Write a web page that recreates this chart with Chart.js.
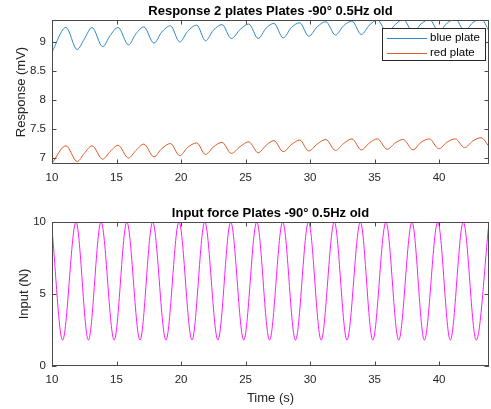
<!DOCTYPE html>
<html>
<head>
<meta charset="utf-8">
<title>Response 2 plates Plates -90° 0.5Hz old</title>
<script src="https://cdn.jsdelivr.net/npm/chart.js@4.4.1/dist/chart.umd.min.js"></script>
<style>
  html, body { margin: 0; padding: 0; background: #fff; }
  #wrap { position: relative; width: 491px; height: 409px; }
  canvas { position: absolute; left: 0; }
  #chartTop { top: 0; }
  #chartBottom { top: 200px; }
</style>
</head>
<body>
<div id="wrap">
  <canvas id="chartTop" width="491" height="200"></canvas>
  <canvas id="chartBottom" width="491" height="209"></canvas>
</div>
<script>
// tick labels
const timeTicks = [10, 15, 20, 25, 30, 35, 40];
const respTicks = [7, 7.5, 8, 8.5, 9];
const forceTicks = [0, 5, 10];

// response of the plates (troughs, mid-rise, peaks)
const plateTime = [10, 11.08,
  11.95, 12.5, 13.1,   13.93, 14.5, 15.12,  15.93, 16.5, 17.12,  17.9, 18.5, 19.18,
  19.9, 20.5, 21.22,   21.9, 22.5, 23.18,   23.9, 24.6, 25.25,   25.98, 26.6, 27.2,
  27.92, 28.55, 29.2,  29.9, 30.55, 31.22,  31.97, 32.6, 33.25,  33.97, 34.6, 35.22,
  35.98, 36.6, 37.22,  37.98, 38.6, 39.25,  39.98, 40.6, 41.25,  41.98, 42.6, 43.25,
  43.87];
const blueMv = [8.83, 9.25,
  8.87, 9.05, 9.25,   8.92, 9.11, 9.25,   8.95, 9.14, 9.26,   8.98, 9.17, 9.28,
  9.00, 9.18, 9.29,   9.02, 9.20, 9.30,   9.06, 9.22, 9.31,   9.06, 9.24, 9.32,
  9.07, 9.25, 9.33,   9.10, 9.26, 9.35,   9.12, 9.28, 9.36,   9.13, 9.29, 9.38,
  9.16, 9.30, 9.39,   9.17, 9.31, 9.39,   9.18, 9.32, 9.40,   9.19, 9.33, 9.40,
  9.19];
const redMv = [6.91, 7.21,
  6.94, 7.08, 7.21,   6.98, 7.11, 7.22,   7.00, 7.13, 7.24,   7.02, 7.16, 7.25,
  7.04, 7.18, 7.26,   7.06, 7.19, 7.27,   7.08, 7.20, 7.28,   7.09, 7.22, 7.30,
  7.11, 7.23, 7.31,   7.12, 7.24, 7.32,   7.13, 7.25, 7.33,   7.14, 7.26, 7.33,
  7.15, 7.26, 7.32,   7.14, 7.27, 7.33,   7.16, 7.27, 7.33,   7.18, 7.29, 7.35,
  7.20];

// input force (troughs and peaks)
const forceTime = [10,
  10.82, 11.86, 12.82, 13.8, 14.82, 15.8, 16.82, 17.8, 18.83, 19.84, 20.85, 21.84,
  22.86, 23.85, 24.86, 25.87, 26.86, 27.88, 28.87, 29.88, 30.86, 31.88, 32.86, 33.9,
  34.86, 35.88, 36.87, 37.9, 38.86, 39.9, 40.87, 41.88, 42.88, 43.87];
const forceN = [9.5,
  1.8, 10, 1.8, 10, 1.8, 10, 1.8, 10, 1.8, 10, 1.8, 10,
  1.8, 10, 1.8, 10, 1.8, 10, 1.8, 10, 1.8, 10, 1.8, 10,
  1.8, 10, 1.8, 10, 1.8, 10, 1.8, 10, 1.8, 10];

const axisGrey = '#262626';
const fontFamily = '"Liberation Sans", Arial, Helvetica, sans-serif';
Chart.defaults.font.family = fontFamily;
Chart.defaults.color = axisGrey;

function toPoints(xs, ys) {
    return xs.map((x, i) => ({ x: x, y: ys[i] }));
}

// MATLAB-like box with inward ticks
const boxTicks = {
    id: 'boxTicks',
    afterDatasetsDraw(chart) {
        const { ctx, chartArea: a, scales: { x, y } } = chart;
        const len = 4.5;
        ctx.save();
        ctx.strokeStyle = '#4a4a4a';
        ctx.lineWidth = 1;
        ctx.beginPath();
        x.ticks.forEach(t => {
            const px = Math.round(x.getPixelForValue(t.value)) + 0.5;
            ctx.moveTo(px, a.bottom); ctx.lineTo(px, a.bottom - len);
            ctx.moveTo(px, a.top); ctx.lineTo(px, a.top + len);
        });
        y.ticks.forEach(t => {
            const py = Math.round(y.getPixelForValue(t.value)) + 0.5;
            ctx.moveTo(a.left, py); ctx.lineTo(a.left + len, py);
            ctx.moveTo(a.right, py); ctx.lineTo(a.right - len, py);
        });
        ctx.stroke();
        ctx.strokeRect(Math.round(a.left) + 0.5, Math.round(a.top) + 0.5,
            Math.round(a.width) - 1, Math.round(a.height) - 1);
        ctx.restore();
    }
};

const boxLegend = {
    id: 'boxLegend',
    afterDraw(chart) {
        if (!chart.options.plugins.boxLegend) return;
        const { ctx, chartArea: a } = chart;
        const x0 = a.right - 107, y0 = a.top + 8, w = 103, h = 32;
        ctx.save();
        ctx.fillStyle = '#fff';
        ctx.fillRect(x0, y0, w, h);
        ctx.strokeStyle = axisGrey;
        ctx.lineWidth = 1;
        ctx.strokeRect(x0 + 0.5, y0 + 0.5, w, h);
        ctx.font = '11.5px ' + fontFamily;
        ctx.textBaseline = 'middle';
        chart.data.datasets.forEach((ds, i) => {
            const ly = y0 + 10 + i * 15;
            ctx.strokeStyle = ds.borderColor;
            ctx.beginPath();
            ctx.moveTo(x0 + 5, ly + 0.5);
            ctx.lineTo(x0 + 45, ly + 0.5);
            ctx.stroke();
            ctx.fillStyle = '#000';
            ctx.fillText(ds.label, x0 + 48, ly);
        });
        ctx.restore();
    }
};

function xScale(height, label) {
    return {
        type: 'linear', min: 10, max: 43.87,
        afterBuildTicks: s => { s.ticks = timeTicks.map(v => ({ value: v })); },
        afterFit: s => { s.height = height; },
        grid: { display: false, drawTicks: false },
        border: { display: false },
        ticks: { color: axisGrey, font: { size: 11.5 }, padding: 7, maxRotation: 0, autoSkip: false },
        title: { display: !!label, text: label || '', color: axisGrey, font: { size: 13 },
                 padding: { top: 0, bottom: 3 } }
    };
}

// top axis only carries the subplot title, centred over the plot area
function titleScale(height, text, padTop) {
    return {
        type: 'linear', position: 'top', min: 10, max: 43.87,
        afterFit: s => { s.height = height; },
        grid: { display: false, drawTicks: false },
        border: { display: false },
        ticks: { display: false },
        title: { display: true, text: text, color: '#000', font: { size: 13, weight: 'bold' },
                 padding: { top: padTop, bottom: 0 } }
    };
}

function yScale(min, max, tickValues, label, titleLeft) {
    return {
        type: 'linear', min: min, max: max,
        afterBuildTicks: s => { s.ticks = tickValues.map(v => ({ value: v })); },
        afterFit: s => { s.width = 52; },
        grid: { display: false, drawTicks: false },
        border: { display: false },
        ticks: { color: axisGrey, font: { size: 11.5 }, padding: 6, autoSkip: false,
                 callback: v => String(v) },
        title: { display: true, text: label, color: axisGrey, font: { size: 13 },
                 padding: { top: titleLeft, bottom: 0 } }
    };
}

function createPlot(ctx, datasets, scales, withLegend) {
    return new Chart(ctx, {
        type: 'line',
        data: { datasets: datasets },
        options: {
            animation: false,
            responsive: false,
            layout: { padding: { left: 0, right: 2, top: 0, bottom: 0 } },
            elements: { point: { radius: 0 }, line: { borderWidth: 1, cubicInterpolationMode: 'monotone' } },
            plugins: {
                legend: { display: false },
                tooltip: { enabled: false },
                boxLegend: withLegend
            },
            scales: scales
        },
        plugins: [boxTicks, boxLegend]
    });
}

const ctxTop = document.getElementById('chartTop').getContext('2d');
const ctxBottom = document.getElementById('chartBottom').getContext('2d');

createPlot(ctxTop, [
        { label: 'blue plate', data: toPoints(plateTime, blueMv), borderColor: '#2b87cc', fill: false },
        { label: 'red plate', data: toPoints(plateTime, redMv), borderColor: '#dd5a22', fill: false }
    ],
    {
        x: xScale(36),
        top: titleScale(20, 'Response 2 plates Plates -90° 0.5Hz old', 3.5),
        y: yScale(6.897, 9.379, respTicks, 'Response (mV)', 14)
    },
    true);

createPlot(ctxBottom, [
        { label: 'input', data: toPoints(forceTime, forceN), borderColor: '#FF1AFF', fill: false }
    ],
    {
        x: xScale(43, 'Time (s)'),
        top: titleScale(22, 'Input force Plates -90° 0.5Hz old', 5.2),
        y: yScale(0, 10, forceTicks, 'Input (N)', 17)
    },
    false);
</script>
</body>
</html>
